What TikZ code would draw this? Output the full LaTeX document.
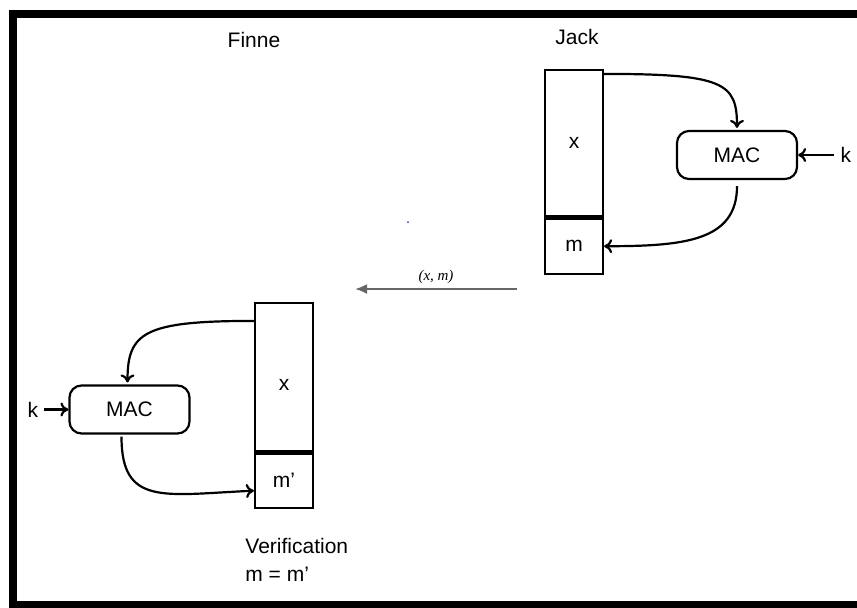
\documentclass[tikz,border=0pt]{standalone}
\usepackage{fontspec}
\setmainfont{Liberation Sans}
\newfontfamily\labelserif{Liberation Serif}
\usetikzlibrary{positioning,arrows.meta,calc}
\definecolor{wirecol}{HTML}{000000}
\definecolor{sendcol}{HTML}{666666}
\definecolor{dotcol}{HTML}{3333DD}

\begin{document}
\begin{tikzpicture}[x=0.5pt, y=-0.5pt, font=\fontsize{10.5}{14}\selectfont,
  stackbox/.style={draw, line width=1.1pt, minimum width=29pt, inner sep=0pt},
  macbox/.style={draw, line width=1.1pt, rounded corners=6pt, minimum width=60pt, minimum height=24pt},
  keylabel/.style={inner sep=3pt},
  wire/.style={-{To[length=4pt,width=7pt]}, line width=1.1pt, color=wirecol}]
\useasboundingbox (0,0) rectangle (857,607);
% frame
\draw[line width=4pt] (857,13.5) -- (12.5,13.5) -- (12.5,604.5) -- (857,604.5);
% titles
\node (finnetitle) at (254,40) {Finne};
\node (jacktitle) at (577,37) {Jack};
% Jack side
\node[stackbox, minimum height=73pt] (jackx) at (574,143) {x};
\node[stackbox, minimum height=28pt, below=0pt of jackx] (jackm) {m};
\draw[line width=2.5pt] (jackx.south west) -- (jackx.south east);
\node[macbox] (jackmac) at (737,155) {MAC};
\node[keylabel, right=18pt of jackmac] (jackk) {k};
\draw[wire] (jackk.west) -- (jackmac.east);
\draw[wire] ([yshift=-2.5pt]jackx.north east) .. controls +(120,0) and +(0,-45) .. ([yshift=1pt]jackmac.north);
\draw[wire] ([yshift=-3pt]jackmac.south) .. controls +(0,55) and +(80,0) .. (jackm.east);
% message sent
\coordinate (sendpt) at (517,289);
\coordinate (recvpt) at (355,289);
\draw[-{Latex[length=6pt,width=5pt]}, line width=1.1pt, color=sendcol] (sendpt) -- node[above=-1pt, text=black, font=\labelserif\itshape\fontsize{7.5}{9}\selectfont] {(x, m)} (recvpt);
\fill[dotcol] (408,222) circle (0.5pt);
% Finne side
\node[stackbox, minimum height=74pt] (finnex) at (284,377) {\raisebox{-4pt}[\height][0pt]{x}};
\node[stackbox, minimum height=27.5pt, below=0pt of finnex] (finnem) {m'};
\draw[line width=2.5pt] (finnex.south west) -- (finnex.south east);
\node[macbox] (finnemac) at (129.5,409.5) {MAC};
\node[keylabel, left=12pt of finnemac] (finnek) {k};
\draw[wire] (finnek.east) -- (finnemac.west);
\draw[wire] ([yshift=-9.5pt]finnex.north west) .. controls +(-110,0) and +(0,-50) .. ([xshift=-1pt,yshift=1pt]finnemac.north);
\draw[wire] ([xshift=-4pt,yshift=-1pt]finnemac.south) .. controls +(0,70) and +(-90,4) .. ([yshift=-5pt]finnem.west);
\node[align=left, anchor=north west, inner sep=0pt] (verif) at (245,538) {Verification\\m = m'};
\end{tikzpicture}
\end{document}
